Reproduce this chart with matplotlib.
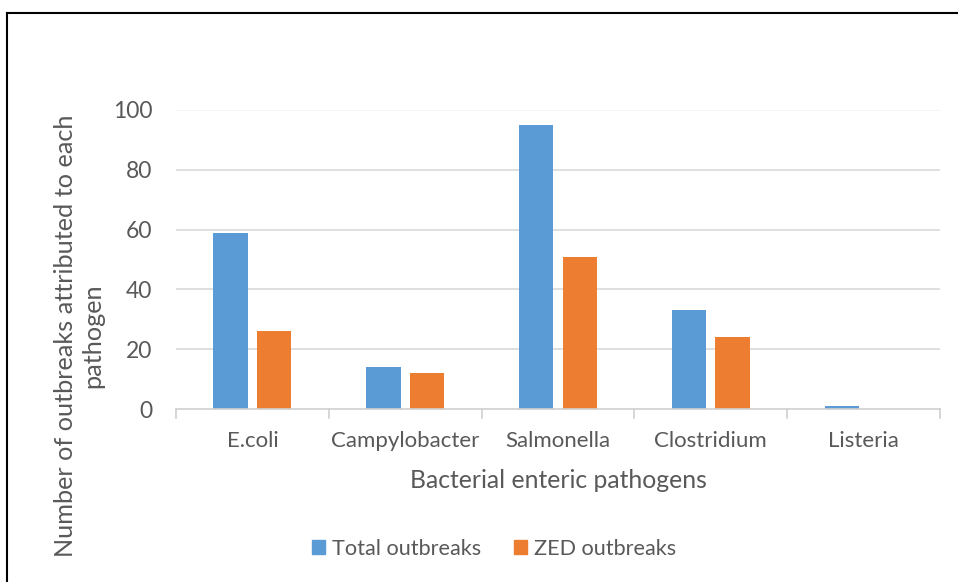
import matplotlib
matplotlib.use("Agg")
import matplotlib.pyplot as plt
import numpy as np
from matplotlib.patches import Rectangle
from matplotlib.lines import Line2D

categories = ["E.coli", "Campylobacter", "Salmonella", "Clostridium", "Listeria"]
total_outbreaks = [59, 14, 95, 33, 1]
zed_outbreaks = [26, 12, 51, 24, 0]
series_names = ["Total outbreaks", "ZED outbreaks"]
yticks = [0, 20, 40, 60, 80, 100]

plt.rcParams['font.family'] = ['Lato', 'DejaVu Sans']
txt = '#595959'
blue = '#5B9BD5'
orange = '#ED7D31'

W, H = 958, 582
fig = plt.figure(figsize=(W/100, H/100), dpi=100)

def fx(px): return px / W
def fy(py): return 1 - py / H

ax = fig.add_axes([fx(176), fy(409), fx(940) - fx(176), fy(110) - fy(409)])
x = np.arange(len(categories))
bw = 0.225
off = 0.143
ax.bar(x - off, total_outbreaks, bw, color=blue, label=series_names[0], zorder=3)
ax.bar(x + off, zed_outbreaks, bw, color=orange, label=series_names[1], zorder=3)
ax.set_xlim(-0.5, len(categories) - 0.5)
ax.set_ylim(0, 100)
ax.set_yticks(yticks)
ax.set_yticklabels([str(v) for v in yticks], fontsize=16.5, color=txt)
ax.tick_params(axis='y', length=0, pad=17)
for v in yticks[1:]:
    ax.axhline(v, color='#D9D9D9' if v < 100 else '#F2F2F2', lw=1.2, zorder=1)
for s in ['top', 'right', 'left']:
    ax.spines[s].set_visible(False)
ax.spines['bottom'].set_color('#D0D0D0')
ax.spines['bottom'].set_linewidth(1.2)
ax.spines['bottom'].set_zorder(4)
ax.set_xticks(x)
ax.set_xticklabels(categories, fontsize=16, color=txt)
ax.tick_params(axis='x', length=0, pad=16)
for b in np.arange(-0.5, len(categories) + 0.5, 1.0):
    ax.plot([b, b], [0, -3], color='#D0D0D0', lw=1.2, clip_on=False, zorder=4)

ax.set_xlabel("Bacterial enteric pathogens", fontsize=17.8, color=txt, labelpad=13)
fig.text(fx(79), fy(336), "Number of outbreaks attributed to each\npathogen", rotation=90,
         ha='center', va='center', fontsize=18.2, color=txt, linespacing=1.2,
         multialignment='center')

handles = [Rectangle((0, 0), 1, 1, color=blue), Rectangle((0, 0), 1, 1, color=orange)]
fig.legend(handles, series_names, loc='center', bbox_to_anchor=(fx(494), fy(549)), ncol=2,
           frameon=False, fontsize=15.6, labelcolor=txt, handlelength=0.6, handleheight=0.6,
           handletextpad=0.35, columnspacing=1.5)

# outer border (top and left visible)
fig.add_artist(Line2D([fx(6.5), fx(6.5)], [fy(12.5), 0], color='black', lw=1.5))
fig.add_artist(Line2D([fx(6.5), 1], [fy(12.5), fy(12.5)], color='black', lw=1.5))

fig.savefig("out.png", dpi=100)
